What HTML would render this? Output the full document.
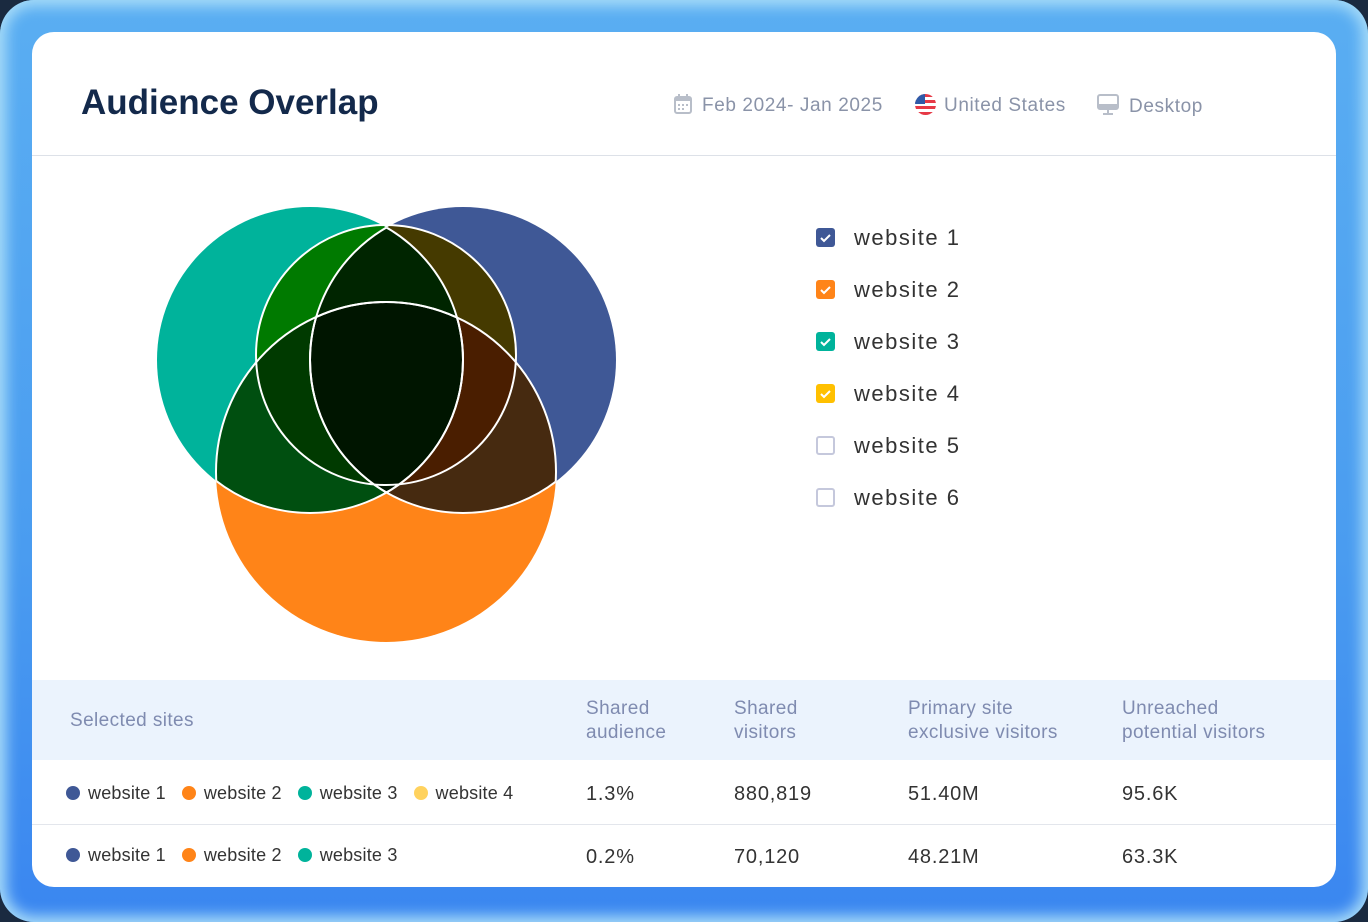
<!DOCTYPE html>
<html><head><meta charset="utf-8"><style>
*{margin:0;padding:0;box-sizing:border-box}
html,body{width:1368px;height:922px;overflow:hidden;background:#1a2a40;font-family:"Liberation Sans",sans-serif}
.frame{position:absolute;left:0;top:0;width:1368px;height:922px;border-radius:34px;background:linear-gradient(180deg,#5aaef2 0%,#4a9cf0 60%,#3a86f0 100%);box-shadow:inset 0 0 14px 6px #a8dcf8}
.card{position:absolute;left:32px;top:32px;width:1304px;height:855px;background:#fff;border-radius:22px;overflow:hidden}
.title{position:absolute;left:49px;top:51px;font-size:35px;font-weight:bold;color:#13294b;letter-spacing:0px}
.hdr{position:absolute;top:62px;font-size:19px;color:#8a93a8;letter-spacing:0.6px;white-space:nowrap}
.div{position:absolute;left:0;top:123px;width:1304px;height:1px;background:#dde1e8}
.leg{position:absolute;left:784px;font-size:22px;color:#333;letter-spacing:1.5px}
.cb{position:absolute;left:0;top:3px;width:19px;height:19px;border-radius:3px}
.leg span{position:absolute;left:38px;top:0;white-space:nowrap}
.th{position:absolute;left:0;top:648px;width:1304px;height:80px;background:#ebf3fd}
.h{position:absolute;font-size:19px;color:#7f8bb0;line-height:24px;letter-spacing:0.4px}
.c{position:absolute;font-size:20px;color:#333;letter-spacing:0.8px}
.dot{display:inline-block;width:14px;height:14px;border-radius:50%;vertical-align:-1px;margin-right:8px}
.row{position:absolute;left:34px;font-size:18px;color:#333;white-space:nowrap;letter-spacing:0.2px}
.row b{font-weight:normal;margin-right:16px}
</style></head><body>
<div class="frame"></div>
<div class="card">
<div class="title">Audience Overlap</div>
<div class="hdr" style="left:642px"><svg width="18" height="20" style="vertical-align:-3px;margin-right:10px"><rect x="1" y="3" width="16" height="16" rx="2" fill="none" stroke="#b8bec9" stroke-width="2"/><rect x="1" y="3" width="16" height="4" fill="#b8bec9"/><rect x="4" y="0" width="2" height="4" fill="#b8bec9"/><rect x="12" y="0" width="2" height="4" fill="#b8bec9"/><g fill="#b8bec9"><rect x="4" y="10" width="2" height="2"/><rect x="8" y="10" width="2" height="2"/><rect x="12" y="10" width="2" height="2"/><rect x="4" y="14" width="2" height="2"/><rect x="8" y="14" width="2" height="2"/></g></svg>Feb 2024- Jan 2025</div>
<div class="hdr" style="left:883px"><svg width="21" height="21" style="vertical-align:-4px;margin-right:8px"><defs><clipPath id="fl"><circle cx="10.5" cy="10.5" r="10.5"/></clipPath></defs><g clip-path="url(#fl)"><rect width="21" height="21" fill="#fff"/><rect y="0" width="21" height="3" fill="#e63946"/><rect y="6" width="21" height="3" fill="#e63946"/><rect y="12" width="21" height="3" fill="#e63946"/><rect y="18" width="21" height="3" fill="#e63946"/><rect width="10" height="10" fill="#2f5aa8"/></g></svg>United States</div>
<div class="hdr" style="left:1065px"><svg width="22" height="22" style="vertical-align:-4px;margin-right:10px"><rect x="1" y="1" width="20" height="14" rx="2" fill="none" stroke="#b8bec9" stroke-width="2"/><rect x="1" y="10" width="20" height="5" fill="#b8bec9"/><rect x="10" y="15" width="2" height="4" fill="#b8bec9"/><rect x="6" y="19" width="10" height="2" fill="#b8bec9"/></svg>Desktop</div>
<div class="div"></div>

<svg style="position:absolute;left:-32px;top:-32px" width="700" height="700">
<defs>
<clipPath id="T"><circle cx="310" cy="360" r="153"/></clipPath>
<clipPath id="B"><circle cx="463" cy="360" r="153"/></clipPath>
<clipPath id="O"><circle cx="386" cy="472" r="170"/></clipPath>
</defs>
<circle cx="310" cy="360" r="153" fill="#00b39b"/>
<circle cx="463" cy="360" r="153" fill="#3f5896"/>
<circle cx="386" cy="472" r="170" fill="#ff8418"/>
<g clip-path="url(#T)"><circle cx="386" cy="472" r="170" fill="#004f10"/></g>
<g clip-path="url(#B)"><circle cx="386" cy="472" r="170" fill="#462a10"/></g>
<g clip-path="url(#T)"><circle cx="386" cy="355" r="130" fill="#007a00"/></g>
<g clip-path="url(#B)"><circle cx="386" cy="355" r="130" fill="#453a00"/></g>
<g clip-path="url(#O)"><g clip-path="url(#T)"><circle cx="386" cy="355" r="130" fill="#003a00"/></g></g>
<g clip-path="url(#O)"><g clip-path="url(#B)"><circle cx="386" cy="355" r="130" fill="#4a1e00"/></g></g>
<g clip-path="url(#T)"><circle cx="463" cy="360" r="153" fill="#002500"/></g>
<g clip-path="url(#O)"><g clip-path="url(#T)"><circle cx="463" cy="360" r="153" fill="#001500"/></g></g>
<g fill="none" stroke="#fff" stroke-width="2">
<circle cx="386" cy="355" r="130"/>
<g clip-path="url(#B)"><circle cx="310" cy="360" r="153"/></g>
<g clip-path="url(#T)"><circle cx="463" cy="360" r="153"/></g>
<g clip-path="url(#T)"><circle cx="386" cy="472" r="170"/></g>
<g clip-path="url(#B)"><circle cx="386" cy="472" r="170"/></g>
<g clip-path="url(#O)"><circle cx="310" cy="360" r="153"/><circle cx="463" cy="360" r="153"/></g>
</g>
</svg>

<div class="leg" style="top:193px"><div class="cb" style="background:#3f5896"></div><svg class="cb" viewBox="0 0 19 19"><path d="M5 10l3 3 6-6" stroke="#fff" stroke-width="2" fill="none"/></svg><span>website 1</span></div>
<div class="leg" style="top:245px"><div class="cb" style="background:#ff8418"></div><svg class="cb" viewBox="0 0 19 19"><path d="M5 10l3 3 6-6" stroke="#fff" stroke-width="2" fill="none"/></svg><span>website 2</span></div>
<div class="leg" style="top:297px"><div class="cb" style="background:#00b39b"></div><svg class="cb" viewBox="0 0 19 19"><path d="M5 10l3 3 6-6" stroke="#fff" stroke-width="2" fill="none"/></svg><span>website 3</span></div>
<div class="leg" style="top:349px"><div class="cb" style="background:#ffc000"></div><svg class="cb" viewBox="0 0 19 19"><path d="M5 10l3 3 6-6" stroke="#fff" stroke-width="2" fill="none"/></svg><span>website 4</span></div>
<div class="leg" style="top:401px"><div class="cb" style="border:2px solid #c5c8dc"></div><span>website 5</span></div>
<div class="leg" style="top:453px"><div class="cb" style="border:2px solid #c5c8dc"></div><span>website 6</span></div>

<div class="th"></div>
<div class="h" style="left:38px;top:677px">Selected sites</div>
<div class="h" style="left:554px;top:665px">Shared<br>audience</div>
<div class="h" style="left:702px;top:665px">Shared<br>visitors</div>
<div class="h" style="left:876px;top:665px">Primary site<br>exclusive visitors</div>
<div class="h" style="left:1090px;top:665px">Unreached<br>potential visitors</div>

<div class="row" style="top:751px"><b><i class="dot" style="background:#3f5896"></i>website 1</b><b><i class="dot" style="background:#ff8418"></i>website 2</b><b><i class="dot" style="background:#00b39b"></i>website 3</b><b><i class="dot" style="background:#ffd25e"></i>website 4</b></div>
<div class="c" style="left:554px;top:751px">1.3%</div>
<div class="c" style="left:702px;top:751px">880,819</div>
<div class="c" style="left:876px;top:751px">51.40M</div>
<div class="c" style="left:1090px;top:751px">95.6K</div>
<div style="position:absolute;left:0;top:792px;width:1304px;height:1px;background:#e3e6ec"></div>
<div class="row" style="top:813px"><b><i class="dot" style="background:#3f5896"></i>website 1</b><b><i class="dot" style="background:#ff8418"></i>website 2</b><b><i class="dot" style="background:#00b39b"></i>website 3</b></div>
<div class="c" style="left:554px;top:814px">0.2%</div>
<div class="c" style="left:702px;top:814px">70,120</div>
<div class="c" style="left:876px;top:814px">48.21M</div>
<div class="c" style="left:1090px;top:814px">63.3K</div>
</div>
</body></html>
